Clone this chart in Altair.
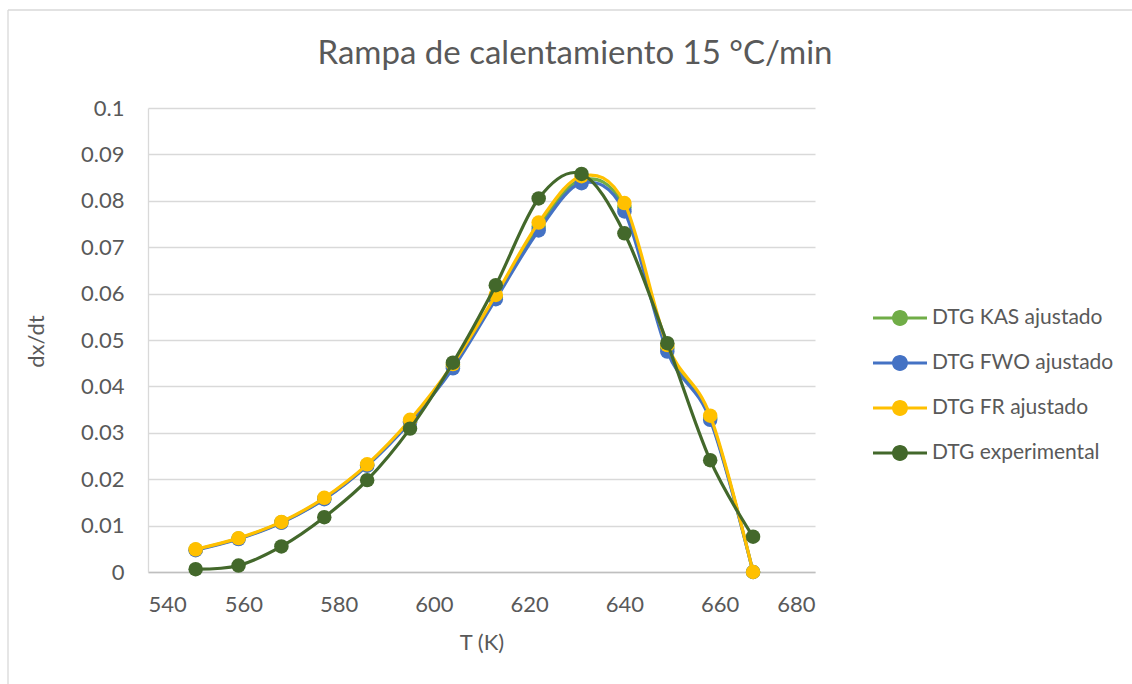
import altair as alt
import pandas as pd

# Temperature (K) at which each DTG value was evaluated
temps = [550, 559, 568, 577, 586, 595, 604, 613, 622, 631, 640, 649, 658, 667]

# dx/dt curves
dtg_kas = [0.0048, 0.0072, 0.0107, 0.0158, 0.0230, 0.0325, 0.0443, 0.0592,
           0.0744, 0.0845, 0.0786, 0.0482, 0.0332, 0.0]
dtg_fwo = [0.0047, 0.0071, 0.0106, 0.0157, 0.0229, 0.0323, 0.0439, 0.0588,
           0.0736, 0.0838, 0.0777, 0.0475, 0.0328, 0.0]
dtg_fr = [0.0049, 0.0073, 0.0108, 0.0160, 0.0232, 0.0328, 0.0448, 0.0597,
          0.0753, 0.0853, 0.0795, 0.0489, 0.0337, 0.0]
dtg_exp = [0.0006, 0.0014, 0.0055, 0.0118, 0.0198, 0.0309, 0.0451, 0.0618,
           0.0805, 0.0858, 0.0730, 0.0493, 0.0241, 0.0076]

series_names = ["DTG KAS ajustado", "DTG FWO ajustado", "DTG FR ajustado", "DTG experimental"]
series_colors = ["#70AD47", "#4472C4", "#FFC000", "#43682B"]
series_values = [dtg_kas, dtg_fwo, dtg_fr, dtg_exp]

x_ticks = [540, 560, 580, 600, 620, 640, 660, 680]
y_ticks = [0, 0.01, 0.02, 0.03, 0.04, 0.05, 0.06, 0.07, 0.08, 0.09, 0.1]

chart_title = "Rampa de calentamiento 15 °C/min"

rows = []
for name, vals in zip(series_names, series_values):
    for t, v in zip(temps, vals):
        rows.append({"T": t, "dxdt": v, "serie": name})
df = pd.DataFrame(rows)

FONT = "Lato"
TXT = "#595959"

# legend symbol: a short line with a dot in the middle
legend_symbol = ("M-1,-0.056 L1,-0.056 L1,0.056 L-1,0.056 Z "
                 "M0.296,0 A0.296,0.296 0 1,1 -0.296,0 A0.296,0.296 0 1,1 0.296,0 Z")

legend = alt.Legend(
    title=None, orient="none", legendX=725, legendY=190,
    symbolType=legend_symbol, symbolSize=2916, symbolStrokeWidth=0,
    symbolOpacity=1, clipHeight=40, rowPadding=5, labelOffset=5,
    labelFont=FONT, labelFontSize=21, labelColor=TXT, labelLimit=400, padding=0,
)

x_enc = alt.X(
    "T:Q",
    scale=alt.Scale(domain=[540, 680], nice=False),
    axis=alt.Axis(values=x_ticks, format="d", grid=False, ticks=False,
                  domainColor="#BFBFBF", domainWidth=1.3,
                  labelPadding=22, labelFontSize=22, labelFont=FONT, labelColor=TXT,
                  title="T (K)", titleFont=FONT, titleFontSize=22, titleColor=TXT,
                  titleFontWeight="normal", titleBaseline="middle", titleY=70),
)
y_enc = alt.Y(
    "dxdt:Q",
    scale=alt.Scale(domain=[0, 0.1], nice=False),
    axis=alt.Axis(values=y_ticks, format=".2~f", grid=True, gridColor="#D9D9D9",
                  gridWidth=1.3, ticks=False, domainColor="#D9D9D9", domainWidth=1.3,
                  labelPadding=24, labelFontSize=22, labelFont=FONT, labelColor=TXT,
                  title="dx/dt", titleFont=FONT, titleFontSize=22, titleColor=TXT,
                  titleFontWeight="normal", titleBaseline="middle",
                  titleX=-112, titleY=233, titleAngle=270),
)
color_enc = alt.Color(
    "serie:N",
    scale=alt.Scale(domain=series_names, range=series_colors),
    sort=series_names,
    legend=legend,
)

base = alt.Chart(df)
layers = []
for name in series_names:
    sub = base.transform_filter(alt.datum.serie == name)
    layers.append(
        sub.mark_line(interpolate="cardinal", strokeWidth=3.2).encode(
            x=x_enc, y=y_enc, color=color_enc)
    )
    layers.append(
        sub.mark_point(filled=True, size=210, opacity=1).encode(
            x=x_enc, y=y_enc, color=color_enc)
    )

one = alt.Data(values=[{"titulo": chart_title}])

# chart-area frame
frame_left = alt.Chart(one).mark_rule(color="#D9D9D9", strokeWidth=1.3).encode(
    x=alt.value(-140), y=alt.value(-98), y2=alt.value(700))
frame_top = alt.Chart(one).mark_rule(color="#D9D9D9", strokeWidth=1.3).encode(
    x=alt.value(-140), x2=alt.value(1100), y=alt.value(-98))

# chart title, centred over the whole chart area
title_mark = alt.Chart(one).mark_text(
    font=FONT, fontSize=33, color=TXT, align="center", baseline="alphabetic"
).encode(x=alt.value(427), y=alt.value(-44), text="titulo:N")

chart = alt.layer(frame_left, frame_top, title_mark, *layers).properties(
    width=667,
    height=464,
    autosize=alt.AutoSizeParams(type="none"),
    padding={"left": 148, "top": 108, "right": 317, "bottom": 112},
    background="white",
).configure_view(stroke=None)

chart.save("out.html", embed_options={"renderer": "svg", "actions": False})
